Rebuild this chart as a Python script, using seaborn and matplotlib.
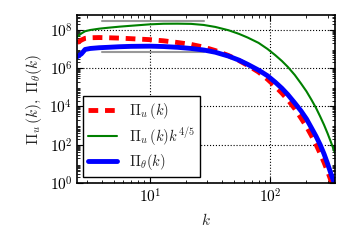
import numpy as np
import pandas as pd
import matplotlib
matplotlib.use('Agg')
import matplotlib.pyplot as plt
import seaborn as sns
from matplotlib.ticker import LogLocator, FixedLocator, FuncFormatter, NullFormatter

# wavenumbers and fluxes
k = [2.5, 2.7, 2.9, 3.2, 3.8, 4.5, 5.6, 7, 10, 13, 17, 22, 28, 35, 45, 55,
     65, 80, 95, 110, 125, 140, 160, 180, 200, 220, 240, 260, 280, 300,
     320, 345]
pi_u = [2.14e7, 2.95e7, 3.63e7, 3.89e7, 3.98e7, 3.89e7, 3.72e7, 3.47e7,
        3.09e7, 2.69e7, 2.19e7, 1.74e7, 1.26e7, 8.3e6, 4.57e6, 2.51e6,
        1.41e6, 6.3e5, 2.63e5, 1.12e5, 5.0e4, 2.24e4, 7.6e3, 2.51e3, 8.9e2,
        3.0e2, 105, 35, 12, 4.0, 1.32, 0.35]
pi_theta = [3.98e6, 5.6e6, 9.5e6, 1.07e7, 1.17e7, 1.23e7, 1.32e7, 1.38e7,
            1.41e7, 1.35e7, 1.23e7, 1.07e7, 8.9e6, 6.8e6, 4.27e6, 2.63e6,
            1.58e6, 7.9e5, 4.0e5, 1.86e5, 8.9e4, 4.17e4, 1.51e4, 5.9e3,
            2.24e3, 7.6e2, 2.8e2, 100, 33, 10, 3.0, 0.8]

# grey reference levels
ref_k = [4, 28]
ref_hi = [2.8e8, 2.8e8]
ref_lo = [6.6e6, 6.6e6]

df = pd.DataFrame({'k': k, 'pi_u': pi_u, 'pi_theta': pi_theta})
df['pi_u_comp'] = df['pi_u'] * df['k'] ** 0.8

sns.set_style('white')
plt.rcParams.update({
    'mathtext.fontset': 'cm',
    'font.family': ['DejaVu Serif'],
    'xtick.direction': 'in',
    'ytick.direction': 'in',
    'xtick.bottom': True,
    'ytick.left': True,
    'xtick.top': True,
    'ytick.right': True,
    'xtick.major.size': 4,
    'ytick.major.size': 4,
    'xtick.minor.size': 2,
    'ytick.minor.size': 2,
    'xtick.color': 'black',
    'ytick.color': 'black',
    'axes.edgecolor': 'black',
    'axes.linewidth': 1.2,
})

fig = plt.figure(figsize=(3.5, 2.5), dpi=100)
ax = fig.add_axes([0.221, 0.268, 0.736, 0.672])
ax.set_xscale('log')
ax.set_yscale('log')

sns.lineplot(x=ref_k, y=ref_hi, color='0.6', lw=1.5, ax=ax)
sns.lineplot(x=ref_k, y=ref_lo, color='0.6', lw=1.5, ax=ax)

sns.lineplot(data=df, x='k', y='pi_u', color='red', lw=3.5,
             linestyle=(0, (2.0, 1.4)), label=r'$\Pi_u\,(k)$', ax=ax)
sns.lineplot(data=df, x='k', y='pi_u_comp', color='green', lw=1.5,
             label=r'$\Pi_u\,(k)k^{4/5}$', ax=ax)
sns.lineplot(data=df, x='k', y='pi_theta', color='blue', lw=3.5,
             label=r'$\Pi_\theta(k)$', ax=ax)

ax.set_xlim(2.5, 345)
ax.set_ylim(1, 6e8)

fmt = FuncFormatter(lambda v, p: r'$10^{%d}$' % round(np.log10(v)))
ax.xaxis.set_major_locator(FixedLocator([10, 100]))
ax.yaxis.set_major_locator(FixedLocator([1, 1e2, 1e4, 1e6, 1e8]))
ax.xaxis.set_major_formatter(fmt)
ax.yaxis.set_major_formatter(fmt)
ax.xaxis.set_minor_locator(LogLocator(base=10, subs=np.arange(2, 10), numticks=50))
ax.yaxis.set_minor_locator(LogLocator(base=10, subs=np.arange(2, 10), numticks=50))
ax.xaxis.set_minor_formatter(NullFormatter())
ax.yaxis.set_minor_formatter(NullFormatter())
ax.tick_params(labelsize=11)

ax.grid(True, which='major', color='black', linestyle=':', lw=0.8)
ax.set_xlabel(r'$k$', fontsize=11)
ax.set_ylabel(r'$\Pi_u\,(k),\ \Pi_\theta(k)$', fontsize=11)

leg = ax.legend(loc='lower left', fontsize=10.5, fancybox=False, framealpha=1,
                edgecolor='black', handlelength=2.0, borderpad=0.35,
                labelspacing=0.3, borderaxespad=0.4)
leg.get_frame().set_linewidth(1.0)

fig.savefig('out.png', dpi=100)
